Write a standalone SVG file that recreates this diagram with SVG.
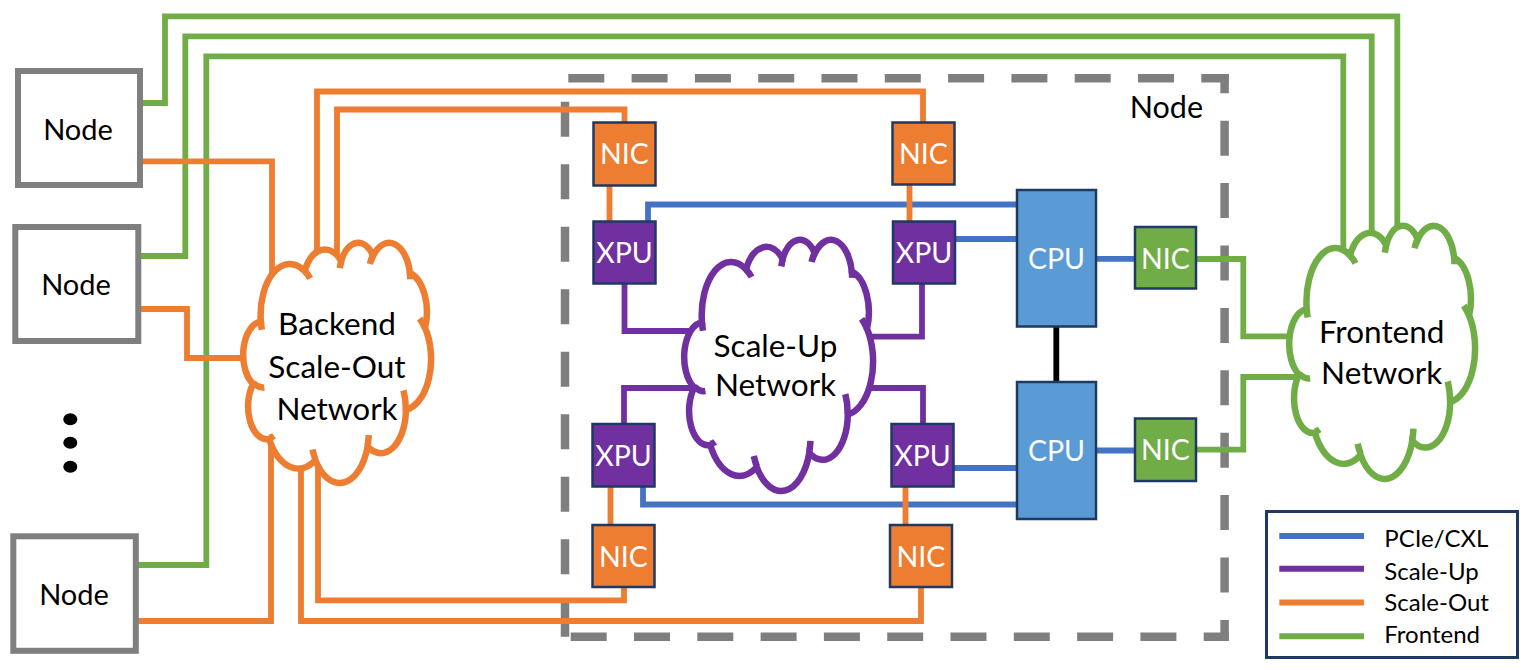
<svg xmlns="http://www.w3.org/2000/svg" width="1532" height="670" viewBox="0 0 1532 670">
<style>
.conn{fill:none;stroke-width:5.8;stroke-linejoin:miter;stroke-linecap:butt}
.g{stroke:#70AD47}.o{stroke:#ED7D31}.b{stroke:#4472C4}.p{stroke:#7030A0}.k{stroke:#000}
.box{fill:#fff;stroke:#7F7F7F;stroke-width:6}
.txt{font-family:Lato,'Liberation Sans',sans-serif;text-anchor:middle;fill:#000}
.wt{font-family:Lato,'Liberation Sans',sans-serif;text-anchor:middle;fill:#fff;font-size:28.5px}
.chip{stroke:#1F3864;stroke-width:2.5}
.nico{fill:#ED7D31}.xpu{fill:#7030A0}.cpu{fill:#5B9BD5}.nicg{fill:#70AD47}
.dash{stroke:#7F7F7F;stroke-width:8.5;fill:none}
.cl{fill:#fff;stroke-width:6.5}
.cli{fill:none;stroke-width:6.5}
.leg{font-family:Lato,'Liberation Sans',sans-serif;font-size:24px;fill:#000}
</style>

<g id="node-container">
<line class="dash" x1="568.3" y1="78.3" x2="1228.8" y2="78.3" stroke-dasharray="36 27.3"/>
<line class="dash" x1="1224.6" y1="74" x2="1224.6" y2="641" stroke-dasharray="35 27.4" stroke-dashoffset="15.7"/>
<line class="dash" x1="570.7" y1="636.8" x2="1228.8" y2="636.8" stroke-dasharray="36 27.3"/>
<line class="dash" x1="565" y1="101.7" x2="565" y2="637" stroke-dasharray="35 27.5"/>
<text class="txt" x="1203" y="118.3" font-size="30.5" style="text-anchor:end">Node</text>
</g>

<g id="connectors">
<path class="conn g" d="M140 103 H165 V16.3 H1397.3 V262"/>
<path class="conn g" d="M138 256 H185.3 V36.3 H1371.7 V262"/>
<path class="conn g" d="M135 565 H206.3 V56.3 H1343.3 V262"/>
<path class="conn g" d="M1196 259 H1243.3 V336.3 H1310"/>
<path class="conn g" d="M1196 449.7 H1243.3 V377 H1310"/>
<path class="conn b" d="M648 222 V204.5 H1017"/>
<path class="conn b" d="M955 239 H1017"/>
<path class="conn b" d="M643 486 V504.5 H1017"/>
<path class="conn b" d="M953 468 H1017"/>
<path class="conn b" d="M1096 258.8 H1135"/>
<path class="conn b" d="M1096 450.5 H1135"/>
<path class="conn p" d="M624.5 283 V331 H710"/>
<path class="conn p" d="M922 283 V336.7 H850"/>
<path class="conn p" d="M624 425 V388 H710"/>
<path class="conn p" d="M923 425 V388 H850"/>
<path class="conn o" d="M140 161.3 H272 V310"/>
<path class="conn o" d="M138 309 H187 V358 H265"/>
<path class="conn o" d="M135 621 H271 V410"/>
<path class="conn o" d="M317 280 V91.5 H923 V123"/>
<path class="conn o" d="M337 280 V109.5 H624.5 V123"/>
<path class="conn o" d="M318 450 V600.3 H624 V587"/>
<path class="conn o" d="M301 440 V621 H921 V587"/>
<path class="conn o" d="M609.5 185 V222"/>
<path class="conn o" d="M909.5 185 V222"/>
<path class="conn o" d="M610.5 486 V525"/>
<path class="conn o" d="M905.5 486 V525"/>
<path class="conn k" d="M1056.3 326 V382"/>
</g>

<g id="node-1"><rect class="box" x="18" y="71" width="122" height="114"/><text class="txt" x="78" y="140" font-size="29">Node</text></g>
<g id="node-2"><rect class="box" x="15.3" y="227" width="123" height="114"/><text class="txt" x="76" y="295" font-size="29">Node</text></g>
<g id="node-3"><rect class="box" x="13.3" y="536.3" width="122.5" height="114.5"/><text class="txt" x="74" y="605" font-size="29">Node</text></g>
<g id="ellipsis"><ellipse cx="70.3" cy="419.2" rx="7" ry="6"/><ellipse cx="70.3" cy="442.8" rx="7" ry="6"/><ellipse cx="70.3" cy="466.7" rx="7" ry="6"/></g>

<g id="backend-cloud">
<g transform="translate(244,242) scale(0.0043287,0.0055556)">
<path class="cl o" vector-effect="non-scaling-stroke" d="M3900 14370 A6753 9190 0 0 1 14006 5203 A5333 7267 0 0 1 22456 3431 A4365 5945 0 0 1 29833 2481 A4857 6595 0 0 1 38318 5576 A5333 7273 0 0 1 41818 15460 A6775 9220 0 0 1 37405 30204 A5785 7867 0 0 1 28557 36814 A6752 9215 0 0 1 16482 39268 A7720 10543 0 0 1 5805 35473 A4360 5918 0 0 1 2113 25552 A4345 5945 0 0 1 3900 14370 Z"/>
<path class="cli o" vector-effect="non-scaling-stroke" d="M4693 26177 A4345 5945 0 0 1 2160 25380 M6928 34899 A4360 5918 0 0 1 5819 35281 M16478 39090 A6752 9215 0 0 1 15809 37348 M28827 34751 A6752 9215 0 0 1 28561 36659 M36839 26702 A5785 7867 0 0 1 37380 30090 M41818 15460 A6775 9220 0 0 0 40570 13762 M38324 5426 A4857 6595 0 0 1 38400 6690 M29078 3952 A4857 6595 0 0 1 29820 2339 M22141 4720 A4365 5945 0 0 1 22500 3331 M14000 5192 A6753 9190 0 0 1 15298 6538 M4127 15789 A6753 9190 0 0 1 3900 14370"/>
</g>
<text class="txt" x="337" y="335" font-size="31.5">Backend</text>
<text class="txt" x="337" y="378" font-size="31.5">Scale-Out</text>
<text class="txt" x="337" y="420" font-size="31.5">Network</text>
</g>

<g id="scaleup-cloud">
<g transform="translate(685,239) scale(0.0043519,0.0058102)">
<path class="cl p" vector-effect="non-scaling-stroke" d="M3900 14370 A6753 9190 0 0 1 14006 5203 A5333 7267 0 0 1 22456 3431 A4365 5945 0 0 1 29833 2481 A4857 6595 0 0 1 38318 5576 A5333 7273 0 0 1 41818 15460 A6775 9220 0 0 1 37405 30204 A5785 7867 0 0 1 28557 36814 A6752 9215 0 0 1 16482 39268 A7720 10543 0 0 1 5805 35473 A4360 5918 0 0 1 2113 25552 A4345 5945 0 0 1 3900 14370 Z"/>
<path class="cli p" vector-effect="non-scaling-stroke" d="M4693 26177 A4345 5945 0 0 1 2160 25380 M6928 34899 A4360 5918 0 0 1 5819 35281 M16478 39090 A6752 9215 0 0 1 15809 37348 M28827 34751 A6752 9215 0 0 1 28561 36659 M36839 26702 A5785 7867 0 0 1 37380 30090 M41818 15460 A6775 9220 0 0 0 40570 13762 M38324 5426 A4857 6595 0 0 1 38400 6690 M29078 3952 A4857 6595 0 0 1 29820 2339 M22141 4720 A4365 5945 0 0 1 22500 3331 M14000 5192 A6753 9190 0 0 1 15298 6538 M4127 15789 A6753 9190 0 0 1 3900 14370"/>
</g>
<text class="txt" x="775.5" y="356.7" font-size="31.5">Scale-Up</text>
<text class="txt" x="775.5" y="396" font-size="31.5">Network</text>
</g>

<g id="frontend-cloud">
<g transform="translate(1290,225) scale(0.0042824,0.0058565)">
<path class="cl g" vector-effect="non-scaling-stroke" d="M3900 14370 A6753 9190 0 0 1 14006 5203 A5333 7267 0 0 1 22456 3431 A4365 5945 0 0 1 29833 2481 A4857 6595 0 0 1 38318 5576 A5333 7273 0 0 1 41818 15460 A6775 9220 0 0 1 37405 30204 A5785 7867 0 0 1 28557 36814 A6752 9215 0 0 1 16482 39268 A7720 10543 0 0 1 5805 35473 A4360 5918 0 0 1 2113 25552 A4345 5945 0 0 1 3900 14370 Z"/>
<path class="cli g" vector-effect="non-scaling-stroke" d="M4693 26177 A4345 5945 0 0 1 2160 25380 M6928 34899 A4360 5918 0 0 1 5819 35281 M16478 39090 A6752 9215 0 0 1 15809 37348 M28827 34751 A6752 9215 0 0 1 28561 36659 M36839 26702 A5785 7867 0 0 1 37380 30090 M41818 15460 A6775 9220 0 0 0 40570 13762 M38324 5426 A4857 6595 0 0 1 38400 6690 M29078 3952 A4857 6595 0 0 1 29820 2339 M22141 4720 A4365 5945 0 0 1 22500 3331 M14000 5192 A6753 9190 0 0 1 15298 6538 M4127 15789 A6753 9190 0 0 1 3900 14370"/>
</g>
<text class="txt" x="1381.7" y="343.3" font-size="31.5">Frontend</text>
<text class="txt" x="1381.7" y="384" font-size="31.5">Network</text>
</g>

<g id="nic-tl"><rect class="chip nico" x="593.5" y="122.5" width="62" height="63"/><text class="wt" x="624.5" y="164">NIC</text></g>
<g id="xpu-tl"><rect class="chip xpu" x="593.5" y="221.5" width="62" height="62"/><text class="wt" x="624.5" y="263">XPU</text></g>
<g id="nic-tr"><rect class="chip nico" x="892.5" y="122.5" width="62" height="62"/><text class="wt" x="923.5" y="164">NIC</text></g>
<g id="xpu-tr"><rect class="chip xpu" x="893" y="221.5" width="62" height="62"/><text class="wt" x="924" y="263">XPU</text></g>
<g id="xpu-bl"><rect class="chip xpu" x="592.5" y="424" width="62" height="62.5"/><text class="wt" x="623.5" y="466">XPU</text></g>
<g id="xpu-br"><rect class="chip xpu" x="891.5" y="424" width="62" height="62.5"/><text class="wt" x="922.5" y="466">XPU</text></g>
<g id="nic-bl"><rect class="chip nico" x="592.5" y="525" width="62" height="62"/><text class="wt" x="623.5" y="566.5">NIC</text></g>
<g id="nic-br"><rect class="chip nico" x="890" y="525" width="62" height="62"/><text class="wt" x="921" y="566.5">NIC</text></g>
<g id="cpu-1"><rect class="chip cpu" x="1017" y="190" width="79" height="136.5"/><text class="wt" x="1056.5" y="269">CPU</text></g>
<g id="cpu-2"><rect class="chip cpu" x="1017" y="382" width="79" height="137"/><text class="wt" x="1056.5" y="461">CPU</text></g>
<g id="nic-fe-1"><rect class="chip nicg" x="1135" y="227" width="61" height="61.5"/><text class="wt" x="1165.5" y="268.5">NIC</text></g>
<g id="nic-fe-2"><rect class="chip nicg" x="1135" y="418.5" width="61" height="62.5"/><text class="wt" x="1165.5" y="460">NIC</text></g>

<g id="legend">
<rect x="1266.5" y="511.5" width="251" height="146" fill="#fff" stroke="#1F3864" stroke-width="3"/>
<line x1="1279.3" y1="536" x2="1364" y2="536" stroke="#4472C4" stroke-width="6"/>
<line x1="1279.3" y1="568.7" x2="1364" y2="568.7" stroke="#7030A0" stroke-width="6"/>
<line x1="1279.3" y1="602.5" x2="1364" y2="602.5" stroke="#ED7D31" stroke-width="6"/>
<line x1="1279.3" y1="636.3" x2="1364" y2="636.3" stroke="#70AD47" stroke-width="6"/>
<text class="leg" x="1384.3" y="547">PCIe/CXL</text>
<text class="leg" x="1384.3" y="579.5">Scale-Up</text>
<text class="leg" x="1384.3" y="611">Scale-Out</text>
<text class="leg" x="1384.3" y="643">Frontend</text>
</g>
</svg>
